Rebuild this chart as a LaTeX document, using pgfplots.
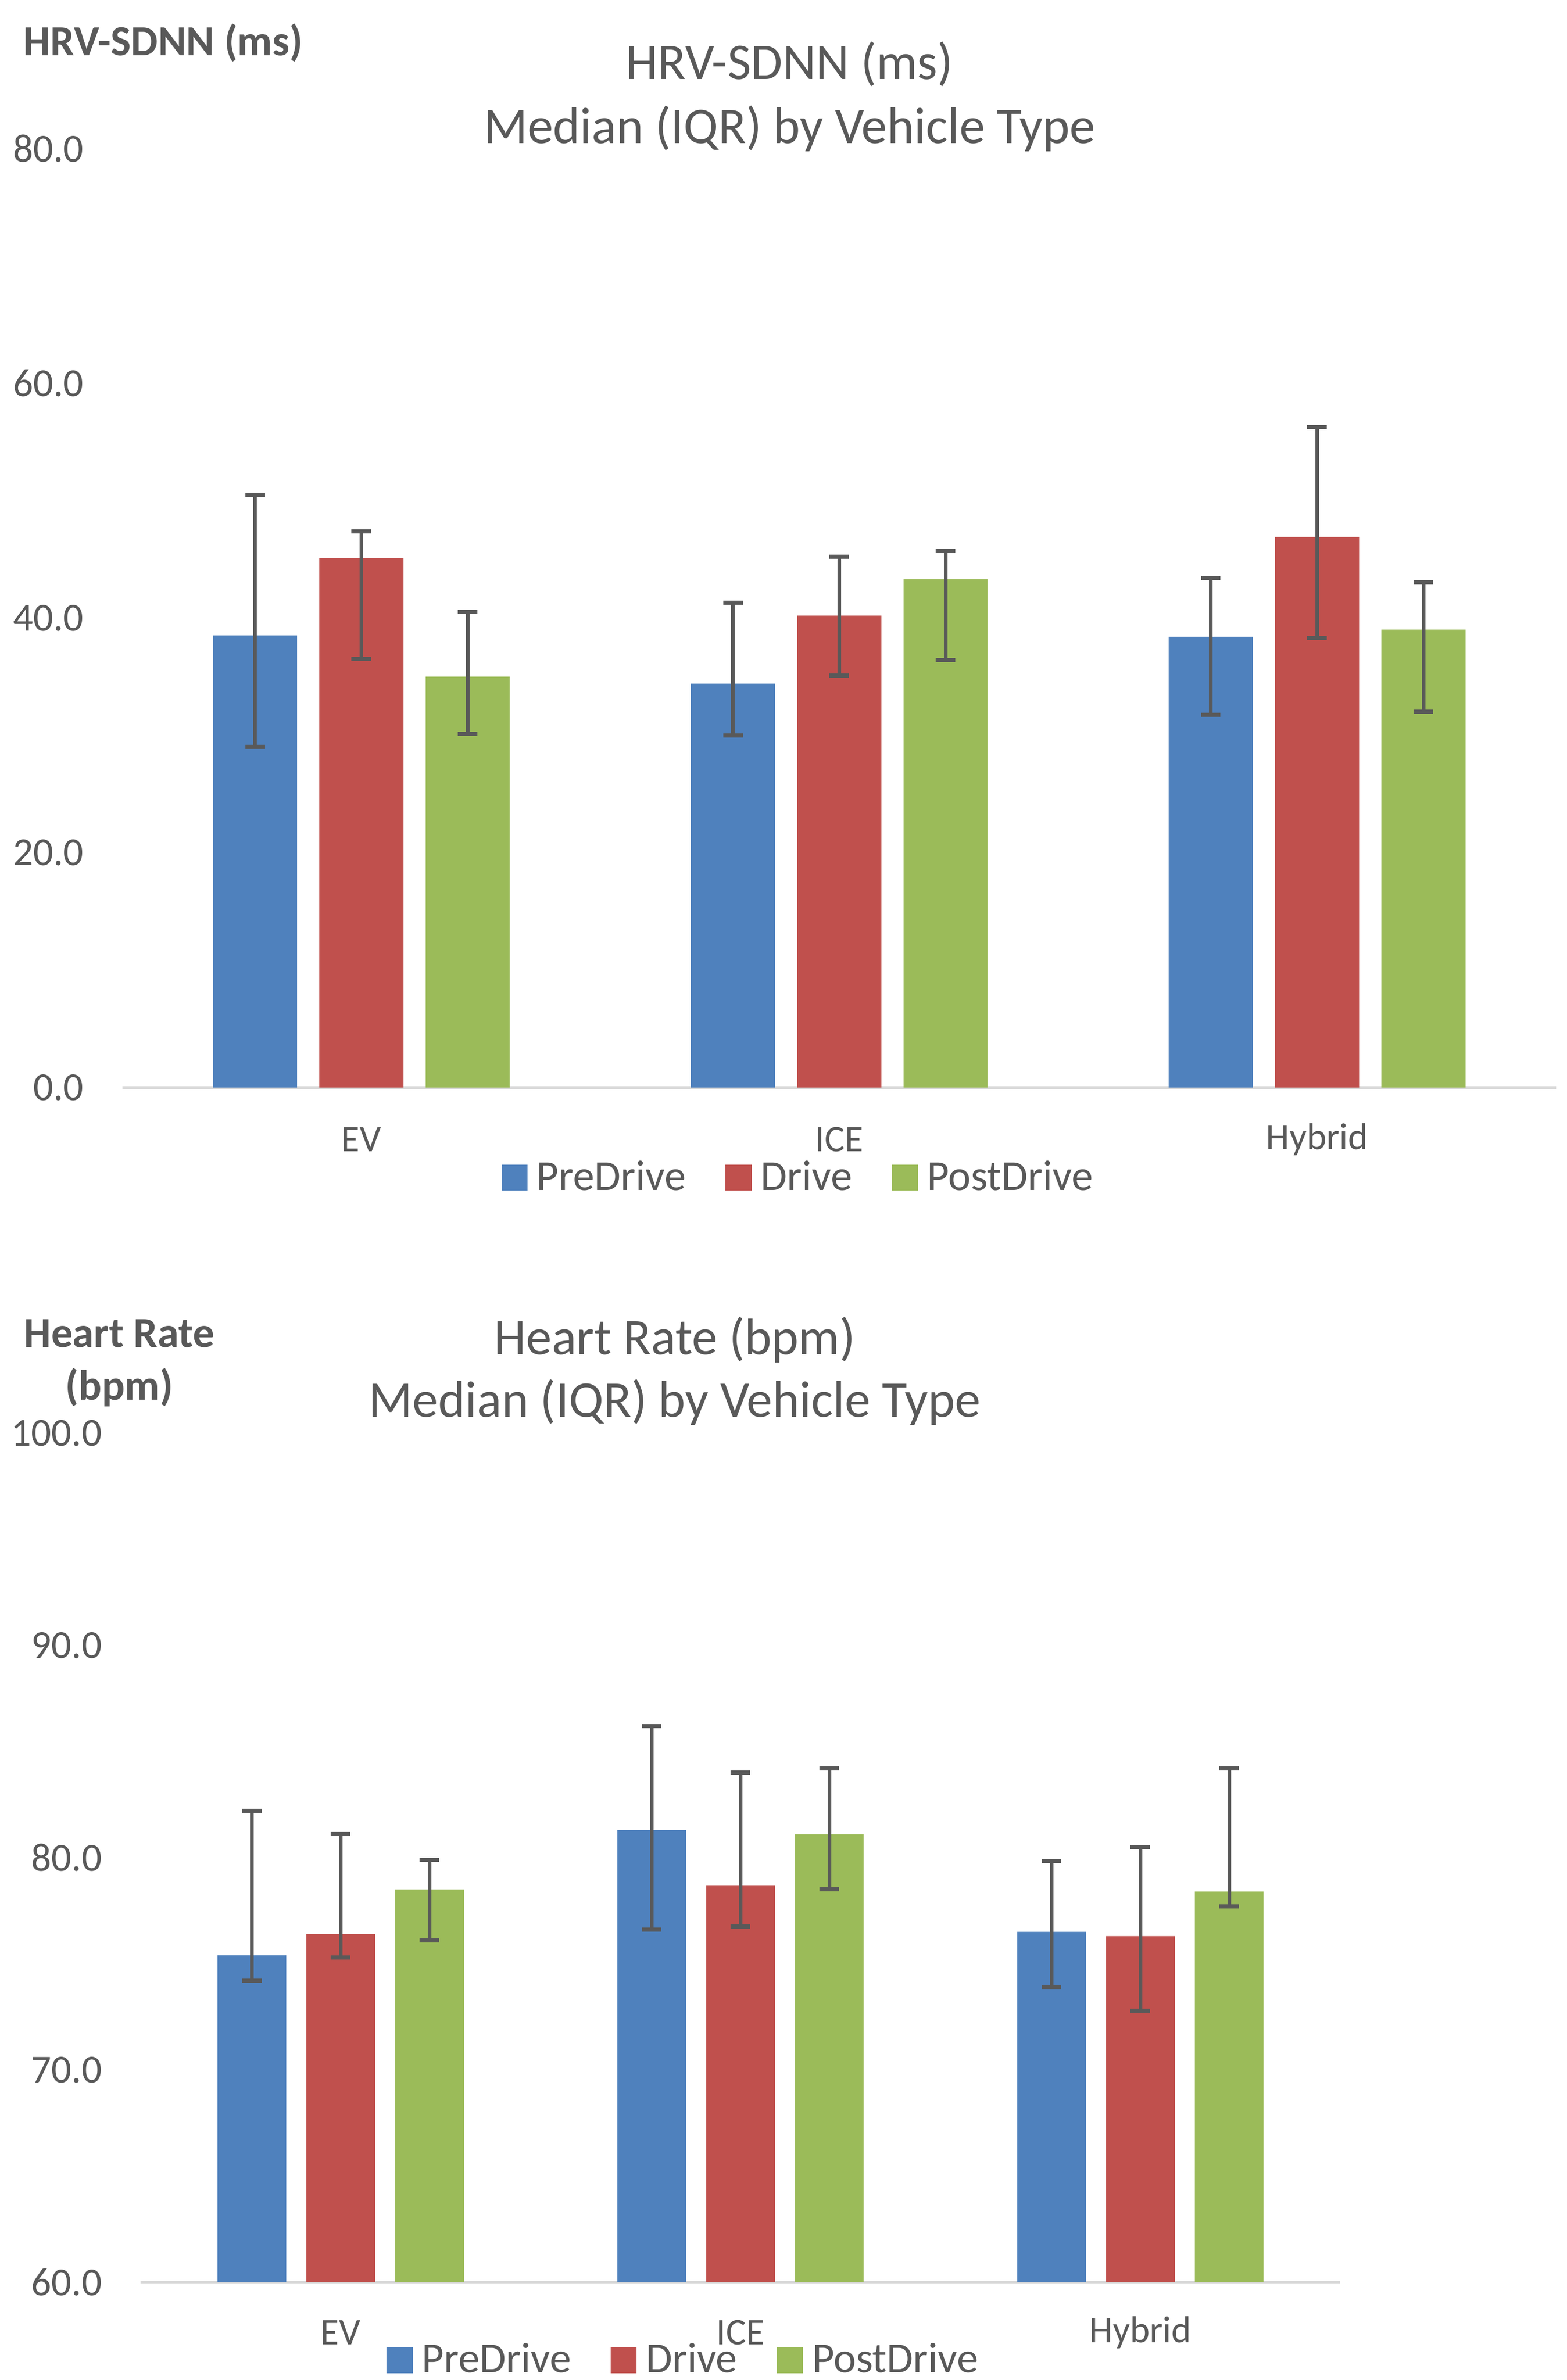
\documentclass[border=0pt]{standalone}
\usepackage{pgfplots}
\pgfplotsset{compat=1.18}
\usepackage{pgfplotstable}
\usepackage{fontspec}
\setmainfont{Carlito}
\definecolor{cblue}{HTML}{4F81BD}
\definecolor{cred}{HTML}{C0504D}
\definecolor{cgreen}{HTML}{9BBB59}
\definecolor{ctext}{HTML}{595959}
\definecolor{caxis}{HTML}{D9D9D9}

% top chart: HRV-SDNN  (x, median, plus, minus)
\pgfplotstableread{
x y ep em
-0.2225 38.5 12.0 9.5
0.7775 34.4 6.9 4.4
1.7775 38.4 5.0 6.65
}\hrvpre
\pgfplotstableread{
x y ep em
0 45.1 2.25 8.6
1 40.2 5.0 5.1
2 46.9 9.35 8.6
}\hrvdrive
\pgfplotstableread{
x y ep em
0.2225 35.0 5.5 4.9
1.2225 43.3 2.4 6.9
2.2225 39.0 4.05 7.0
}\hrvpost
% bottom chart: heart rate
\pgfplotstableread{
x y ep em
-0.222 75.4 6.8 1.2
0.778 81.3 4.9 4.7
1.778 76.5 3.35 2.6
}\hrpre
\pgfplotstableread{
x y ep em
0 76.4 4.7 1.1
1 78.7 5.3 1.95
2 76.3 4.2 3.5
}\hrdrive
\pgfplotstableread{
x y ep em
0.222 78.5 1.4 2.4
1.222 81.1 3.1 2.6
2.222 78.4 5.8 0.7
}\hrpost

\pgfplotsset{
  mybars/.style={
    scale only axis,
    ybar, bar shift=0pt,
    xmin=-0.5, xmax=2.5,
    xtick={0,1,2},
    xticklabels={EV,ICE,Hybrid},
    axis lines*=left,
    axis line style={-},
    x axis line style={draw=caxis, line width=1pt},
    y axis line style={draw=none},
    major tick length=0pt,
    tick style={draw=none},
    /pgf/number format/assume math mode=true,
    yticklabel style={font=\fontsize{13}{15}\selectfont, text=ctext, anchor=east, inner sep=0pt, xshift=-12.5pt,
      /pgf/number format/.cd, fixed, fixed zerofill, precision=1},
    xticklabel style={font=\fontsize{12.3}{14}\selectfont, text=ctext, anchor=center, inner sep=0pt},
    legend columns=3,
    legend image code/.code={\fill[##1] (0pt,-4.25pt) rectangle (8.5pt,4.25pt);},
    legend style={draw=none, fill=none, anchor=center,
      font=\fontsize{14}{16}\selectfont, text=ctext,
      nodes={inner sep=0pt},
      /tikz/every odd column/.append style={column sep=3pt},
      /tikz/every even column/.append style={column sep=13pt}},
    error bars/y dir=both,
    error bars/y explicit,
    error bars/error bar style={draw=ctext, line width=1.2pt},
    error bars/error mark options={rotate=90, draw=ctext, line width=1.35pt, mark size=3.2pt},
  },
}

\begin{document}
\begin{tikzpicture}
\useasboundingbox (0,0) rectangle (512pt,778pt);

\begin{axis}[mybars,
  at={(40pt,422.5pt)}, anchor=south west,
  width=468.5pt, height=307pt,
  ymin=0, ymax=80, ytick={0,20,40,60,80},
  bar width=0.176,
  xticklabel style={yshift=-17pt},
  legend style={at={(0.4707,-0.096)}},
]
\addplot[fill=cblue, draw=none] table[x=x, y=y, y error plus=ep, y error minus=em] {\hrvpre};
\addplot[fill=cred, draw=none] table[x=x, y=y, y error plus=ep, y error minus=em] {\hrvdrive};
\addplot[fill=cgreen, draw=none] table[x=x, y=y, y error plus=ep, y error minus=em] {\hrvpost};
\legend{PreDrive, Drive, PostDrive}
\end{axis}

\begin{axis}[mybars,
  at={(46pt,32pt)}, anchor=south west,
  width=392pt, height=277.5pt,
  ymin=60, ymax=100, ytick={60,70,80,90,100},
  bar width=0.172,
  xticklabel style={yshift=-16.5pt},
  legend style={at={(0.4515,-0.092)}},
]
\addplot[fill=cblue, draw=none] table[x=x, y=y, y error plus=ep, y error minus=em] {\hrpre};
\addplot[fill=cred, draw=none] table[x=x, y=y, y error plus=ep, y error minus=em] {\hrdrive};
\addplot[fill=cgreen, draw=none] table[x=x, y=y, y error plus=ep, y error minus=em] {\hrpost};
\legend{PreDrive, Drive, PostDrive}
\end{axis}

% titles and axis labels
\node[text=ctext, font=\fontsize{16.8}{20}\selectfont, inner sep=0pt] at (258pt,757pt) {HRV-SDNN (ms)};
\node[text=ctext, font=\fontsize{16.8}{20}\selectfont, inner sep=0pt] at (258pt,736pt) {Median (IQR) by Vehicle Type};
\node[text=ctext, font=\bfseries\fontsize{14}{16}\selectfont, inner sep=0pt, anchor=west] at (7.5pt,764pt) {HRV-SDNN (ms)};

\node[text=ctext, font=\fontsize{16.8}{20}\selectfont, inner sep=0pt] at (220.5pt,340pt) {Heart Rate (bpm)};
\node[text=ctext, font=\fontsize{16.8}{20}\selectfont, inner sep=0pt] at (220.5pt,319.5pt) {Median (IQR) by Vehicle Type};
\node[text=ctext, font=\bfseries\fontsize{14}{16}\selectfont, inner sep=0pt] at (39pt,342pt) {Heart Rate};
\node[text=ctext, font=\bfseries\fontsize{14}{16}\selectfont, inner sep=0pt] at (39pt,324.5pt) {(bpm)};
\end{tikzpicture}
\end{document}
